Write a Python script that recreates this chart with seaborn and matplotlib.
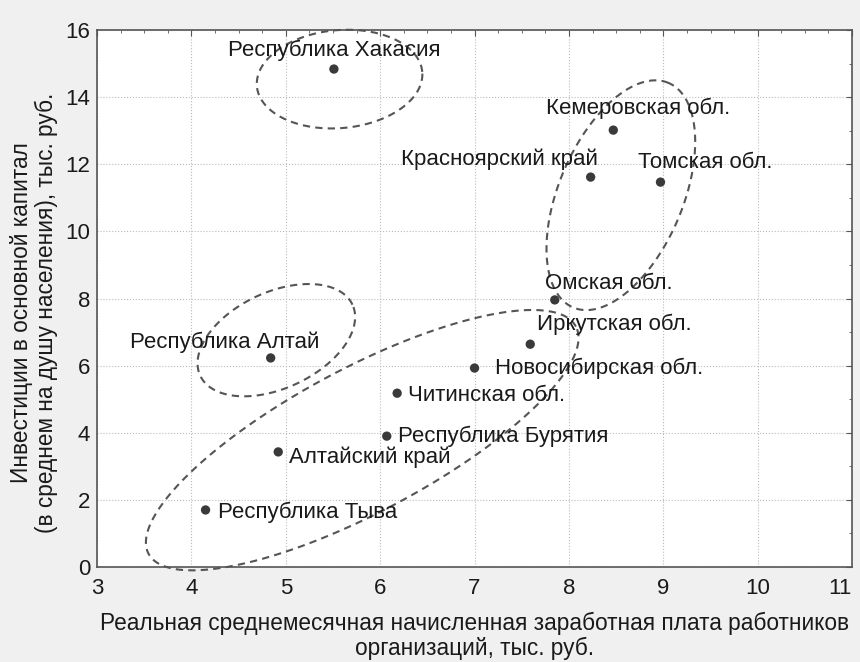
import numpy as np
import pandas as pd
import seaborn as sns
import matplotlib.pyplot as plt
from matplotlib.ticker import MultipleLocator

# regions of Siberia: real wage vs investments per capita
regions = ["Республика Хакасия", "Кемеровская обл.", "Красноярский край",
           "Томская обл.", "Омская обл.", "Иркутская обл.",
           "Новосибирская обл.", "Республика Алтай", "Читинская обл.",
           "Республика Бурятия", "Алтайский край", "Республика Тыва"]
wage = [5.51, 8.47, 8.23, 8.97, 7.85, 7.59, 7.00, 4.84, 6.18, 6.07, 4.92, 4.15]
invest = [14.84, 13.02, 11.62, 11.47, 7.96, 6.64, 5.93, 6.23, 5.18, 3.90, 3.43, 1.70]

# label offsets in points and alignment
label_pos = {
    "Республика Хакасия": (0, 6, "center", "bottom"),
    "Кемеровская обл.": (18, 16, "center", "center"),
    "Красноярский край": (5, 13, "right", "center"),
    "Томская обл.": (32, 14, "center", "center"),
    "Омская обл.": (-7, 12, "left", "center"),
    "Иркутская обл.": (5, 14, "left", "center"),
    "Новосибирская обл.": (15, 0, "left", "center"),
    "Республика Алтай": (35, 11, "right", "center"),
    "Читинская обл.": (8, -2, "left", "center"),
    "Республика Бурятия": (8, 0, "left", "center"),
    "Алтайский край": (8, -4, "left", "center"),
    "Республика Тыва": (9, -2, "left", "center"),
}

# dashed cluster ellipses: centre (data), semi-axes (px), angle (deg on screen)
ell_cx = [5.57, 8.55, 4.90, 5.81]
ell_cy = [14.54, 11.08, 6.76, 3.78]
ell_a = [83, 122, 84, 242]
ell_b = [49, 62, 48, 72]
ell_ang = [5, 67, 25, 28]

df = pd.DataFrame({"region": regions, "wage": wage, "invest": invest})

sns.set_style("white")
plt.rcParams["font.family"] = ["Liberation Sans", "DejaVu Sans"]

fig = plt.figure(figsize=(8.6, 6.62), dpi=100, facecolor="#f0f0f0")
ax = fig.add_axes([0.1128, 0.1435, 0.878, 0.811])
ax.set_facecolor("white")

sns.scatterplot(data=df, x="wage", y="invest", ax=ax, color="#3a3a3a",
                s=45, edgecolor="none", zorder=3)

ax.set_xlim(3, 11)
ax.set_ylim(0, 16)
ax.xaxis.set_major_locator(MultipleLocator(1))
ax.xaxis.set_minor_locator(MultipleLocator(0.25))
ax.yaxis.set_major_locator(MultipleLocator(2))
ax.yaxis.set_minor_locator(MultipleLocator(1))
ax.tick_params(which="both", direction="in", top=True, right=True,
               color="#555555", labelcolor="#1a1a1a")
ax.tick_params(which="major", length=4)
ax.tick_params(which="minor", length=2.5)
ax.tick_params(axis="x", pad=8, labelsize=16)
ax.tick_params(axis="y", pad=5, labelsize=16)
ax.grid(True, which="major", linestyle=":", color="#bbbbbb", linewidth=0.8)
for sp in ax.spines.values():
    sp.set_color("#555555")
    sp.set_linewidth(1.2)

ax.set_xlabel("Реальная среднемесячная начисленная заработная плата работников\n"
              "организаций, тыс. руб.", fontsize=16.3,
              color="#1a1a1a", labelpad=9, linespacing=1.1)
ax.set_ylabel("Инвестиции в основной капитал\n"
              "(в среднем на душу населения), тыс. руб.", fontsize=16.3,
              color="#1a1a1a", linespacing=1.1)
ax.yaxis.set_label_coords(-0.052, 0.473)

for r, x, y in zip(regions, wage, invest):
    dx, dy, ha, va = label_pos[r]
    ax.annotate(r, (x, y), xytext=(dx, dy), textcoords="offset points",
                ha=ha, va=va, fontsize=16, color="#1a1a1a")

# ellipses drawn in screen space so they look like the original sketch
t = np.linspace(0, 2 * np.pi, 400)
for cx, cy, a, b, ang in zip(ell_cx, ell_cy, ell_a, ell_b, ell_ang):
    th = np.deg2rad(ang)
    c = ax.transData.transform((cx, cy))
    dx = a * np.cos(t) * np.cos(th) - b * np.sin(t) * np.sin(th)
    dy = a * np.cos(t) * np.sin(th) + b * np.sin(t) * np.cos(th)
    pts = ax.transData.inverted().transform(np.column_stack([c[0] + dx, c[1] + dy]))
    ax.plot(pts[:, 0], pts[:, 1], color="#555555", linewidth=1.5,
            linestyle=(0, (3.5, 2.5)), clip_on=False, zorder=2)

# "11" would run off the right edge of the figure: right-align it
fig.canvas.draw()
for tick in ax.xaxis.get_major_ticks():
    if abs(tick.get_loc() - 11) < 1e-9:
        tick.label1.set_horizontalalignment("right")
        tick.label1.set_x(11.07)

fig.savefig("out.png", dpi=100, facecolor=fig.get_facecolor())
